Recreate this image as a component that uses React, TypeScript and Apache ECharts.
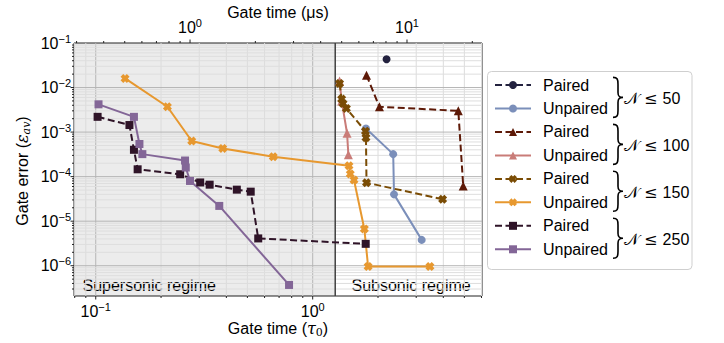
import React, { useEffect, useRef } from 'react';
import * as echarts from 'echarts';

const FONT = '"Liberation Sans", Arial, Helvetica, sans-serif';
const MATH_FONT = '"DejaVu Serif", "Liberation Serif", serif';

// ---- axis ranges ----
const tauRange = [0.0794, 6.03];
const errorRange = [2.09e-7, 0.1];
const microsecondsPerTau = 3.676;
const regimeBoundaryTau = 1.27;

// ---- labelled decade ticks ----
const bottomDecades = [0.1, 1];
const topDecades = [1, 10];
const leftDecades = [1e-6, 1e-5, 1e-4, 1e-3, 1e-2, 1e-1];

// ---- series data: [gate time (tau0), gate error] ----
const paired50 = [[2.19, 4.3e-2]];
const unpaired50 = [[1.76, 1.2e-3], [2.35, 3.2e-4], [2.37, 4.0e-5], [3.18, 3.8e-6]];
const paired100 = [[1.77, 1.9e-2], [2.03, 3.7e-3], [4.69, 3.0e-3], [4.94, 6.2e-5]];
const unpaired100 = [[1.33, 1.4e-2], [1.36, 5.0e-3], [1.44, 9.4e-4], [1.46, 3.1e-4]];
const paired150 = [[1.33, 1.24e-2], [1.36, 5.5e-3], [1.38, 4.4e-3], [1.43, 3.4e-3], [1.75, 1.05e-3], [1.76, 7.5e-4], [1.77, 7.3e-5], [3.97, 3.1e-5]];
const unpaired150 = [[0.1365, 1.6e-2], [0.214, 3.7e-3], [0.277, 6.3e-4], [0.385, 4.3e-4], [0.658, 2.8e-4], [1.47, 1.75e-4], [1.49, 1.15e-4], [1.55, 8.4e-5], [1.73, 6.7e-6], [1.80, 9.6e-7], [3.47, 9.6e-7]];
const paired250 = [[0.102, 2.2e-3], [0.143, 1.44e-3], [0.150, 4.0e-4], [0.156, 1.46e-4], [0.245, 1.13e-4], [0.303, 7.4e-5], [0.335, 6.6e-5], [0.447, 5.1e-5], [0.518, 4.6e-5], [0.561, 4.1e-6], [1.755, 3.1e-6]];
const unpaired250 = [[0.103, 4.2e-3], [0.150, 2.2e-3], [0.159, 5.4e-4], [0.164, 3.2e-4], [0.258, 2.3e-4], [0.260, 1.6e-4], [0.272, 8.0e-5], [0.371, 2.2e-5], [0.778, 3.7e-7]];

const groupLabels = ['50', '100', '150', '250'];
const legendWords = ['Paired', 'Unpaired'];

const X_MARK = 'path://M3,0L5,2L7,0L10,3L8,5L10,7L7,10L5,8L3,10L0,7L2,5L0,3Z';
const BRACE_D = 'M0,0 C4.5,0 5,2 5,7 L5,15 C5,18.5 6,20 10,20 C6,20 5,21.5 5,25 L5,33 C5,38 4.5,40 0,40';
echarts.graphic.registerShape('legendBrace', echarts.graphic.extendPath(BRACE_D, {}));

function logSteps(min: number, max: number): number[][] {
  const out: number[][] = [];
  for (let e = Math.floor(Math.log10(min)); e <= Math.ceil(Math.log10(max)); e++) {
    for (let m = 1; m <= 9; m++) {
      const v = m * Math.pow(10, e);
      if (v > min * 1.0001 && v < max * 0.9999) out.push([v, m === 1 ? 1 : 0]);
    }
  }
  return out;
}

const decadeFormatter = (decades: number[]) => (v: number) => {
  if (!decades.some((d) => Math.abs(v / d - 1) < 1e-6)) return '';
  const e = Math.round(Math.log10(v));
  return `{b|10}{s|${e < 0 ? '\u2212' + -e : e}}`;
};

const labelRich = {
  b: { fontSize: 16, fontFamily: FONT, color: '#000', lineHeight: 20 },
  s: { fontSize: 11, fontFamily: FONT, color: '#000', lineHeight: 12, verticalAlign: 'top' },
};

export default function App() {
  const ref = useRef<HTMLDivElement>(null);
  useEffect(() => {
    if (!ref.current) return;
    const chart = echarts.init(ref.current, null, { renderer: 'svg' });

    const lineSeries = (name: string, data: number[][], color: string, symbol: string, dashed: boolean, size = 8) => ({
      type: 'line',
      name,
      data,
      xAxisIndex: 0,
      yAxisIndex: 0,
      symbol,
      symbolSize: size,
      showSymbol: true,
      silent: true,
      z: 4,
      lineStyle: { color, width: 2, type: dashed ? [7, 3.5] : 'solid' },
      itemStyle: { color },
    });

    const names = groupLabels.flatMap((g) => legendWords.map((w) => `${w}|${g}`));

    const yTop = errorRange[1];
    const xLeft = tauRange[0];

    const option: any = {
      animation: false,
      backgroundColor: '#fff',
      grid: {
        left: 74, top: 43, right: 242, bottom: 47,
        show: true, borderColor: '#222', borderWidth: 1, backgroundColor: 'transparent',
        containLabel: false, outerBoundsMode: 'none',
      },
      xAxis: [
        {
          type: 'log', position: 'bottom', min: tauRange[0], max: tauRange[1],
          axisLine: { show: false }, axisTick: { show: false }, splitLine: { show: false }, minorTick: { show: false },
          axisLabel: { formatter: decadeFormatter(bottomDecades), margin: 5, rich: labelRich },
        },
        {
          type: 'log', position: 'top', min: tauRange[0] * microsecondsPerTau, max: tauRange[1] * microsecondsPerTau,
          axisLine: { show: false }, axisTick: { show: false }, splitLine: { show: false }, minorTick: { show: false },
          axisLabel: { formatter: decadeFormatter(topDecades), margin: 6, rich: labelRich },
        },
      ],
      yAxis: [
        {
          type: 'log', position: 'left', min: errorRange[0], max: errorRange[1],
          axisLine: { show: false }, axisTick: { show: false }, splitLine: { show: false }, minorTick: { show: false },
          axisLabel: { formatter: decadeFormatter(leftDecades), margin: 3, rich: labelRich },
        },
      ],
      legend: {
        orient: 'vertical', left: 494, top: 76, padding: 0,
        itemWidth: 36, itemHeight: 10, itemGap: 5.47,
        selectedMode: false,
        data: names,
        formatter: (n: string) => n.split('|')[0],
        textStyle: { fontFamily: FONT, fontSize: 16, color: '#000', lineHeight: 18, padding: [0, 0, 0, 7] },
      },
      series: [
        // supersonic shading
        {
          type: 'custom', name: 'shade', silent: true, z: 0, clip: false,
          xAxisIndex: 0, yAxisIndex: 0,
          data: [[regimeBoundaryTau, errorRange[0]]],
          renderItem: (params: any, api: any) => {
            const p0 = api.coord([tauRange[0], errorRange[1]]);
            const p1 = api.coord([api.value(0), api.value(1)]);
            return {
              type: 'rect',
              shape: { x: p0[0], y: p0[1], width: p1[0] - p0[0], height: p1[1] - p0[1] },
              style: { fill: 'rgba(0,0,0,0.075)' },
            };
          },
        },
        // vertical gridlines + bottom ticks
        {
          type: 'custom', name: 'xgrid', silent: true, z: 1, clip: false,
          xAxisIndex: 0, yAxisIndex: 0,
          data: logSteps(tauRange[0], tauRange[1]).map(([v, m]) => [v, yTop, m]),
          renderItem: (params: any, api: any) => {
            const cs = params.coordSys;
            const px = api.coord([api.value(0), yTop])[0];
            const major = api.value(2) === 1;
            return {
              type: 'group',
              children: [
                { type: 'line', shape: { x1: px, y1: cs.y, x2: px, y2: cs.y + cs.height }, style: { stroke: major ? '#b5b5b5' : '#dcdcdc', lineWidth: 1 } },
                { type: 'line', shape: { x1: px, y1: cs.y + cs.height, x2: px, y2: cs.y + cs.height + (major ? 3.5 : 2) }, style: { stroke: '#222', lineWidth: 1 } },
              ],
            };
          },
        },
        // horizontal gridlines + left ticks
        {
          type: 'custom', name: 'ygrid', silent: true, z: 1, clip: false,
          xAxisIndex: 0, yAxisIndex: 0,
          data: logSteps(errorRange[0], errorRange[1]).map(([v, m]) => [xLeft, v, m]),
          renderItem: (params: any, api: any) => {
            const cs = params.coordSys;
            const py = api.coord([xLeft, api.value(1)])[1];
            const major = api.value(2) === 1;
            return {
              type: 'group',
              children: [
                { type: 'line', shape: { x1: cs.x, y1: py, x2: cs.x + cs.width, y2: py }, style: { stroke: major ? '#b5b5b5' : '#dedede', lineWidth: 1 } },
                { type: 'line', shape: { x1: cs.x, y1: py, x2: cs.x - (major ? 3.5 : 2), y2: py }, style: { stroke: '#222', lineWidth: 1 } },
              ],
            };
          },
        },
        // top axis ticks (microseconds)
        {
          type: 'custom', name: 'toptick', silent: true, z: 1, clip: false,
          xAxisIndex: 1, yAxisIndex: 0,
          data: logSteps(tauRange[0] * microsecondsPerTau, tauRange[1] * microsecondsPerTau).map(([v, m]) => [v, yTop, m]),
          renderItem: (params: any, api: any) => {
            const cs = params.coordSys;
            const px = api.coord([api.value(0), yTop])[0];
            const major = api.value(2) === 1;
            return { type: 'line', shape: { x1: px, y1: cs.y, x2: px, y2: cs.y - (major ? 3.5 : 2) }, style: { stroke: '#222', lineWidth: 1 } };
          },
        },
        // regime divider
        {
          type: 'custom', name: 'divider', silent: true, z: 2, clip: false,
          xAxisIndex: 0, yAxisIndex: 0,
          data: [[regimeBoundaryTau, yTop]],
          renderItem: (params: any, api: any) => {
            const cs = params.coordSys;
            const px = api.coord([api.value(0), yTop])[0];
            return { type: 'line', shape: { x1: px, y1: cs.y, x2: px, y2: cs.y + cs.height }, style: { stroke: '#404040', lineWidth: 1.5 } };
          },
        },
        lineSeries(names[0], paired50, '#23223f', 'circle', true),
        lineSeries(names[1], unpaired50, '#7b8fba', 'circle', false),
        lineSeries(names[2], paired100, '#5d1907', 'triangle', true, 9),
        lineSeries(names[3], unpaired100, '#c97c78', 'triangle', false, 9),
        lineSeries(names[4], paired150, '#7a4c05', X_MARK, true, 9),
        lineSeries(names[5], unpaired150, '#e7982f', X_MARK, false, 9),
        lineSeries(names[6], paired250, '#2f1428', 'rect', true),
        lineSeries(names[7], unpaired250, '#836697', 'rect', false),
      ],
      graphic: [
        {
          type: 'rect', z: 0, silent: true,
          shape: { x: 487.5, y: 71.5, width: 204.5, height: 198, r: 4 },
          style: { fill: 'rgba(255,255,255,0.8)', stroke: '#cfcfcf', lineWidth: 1 },
        },
        ...groupLabels.flatMap((g, i) => {
          const cy = 97.4 + i * 46.94;
          return [
            {
              type: 'legendBrace', x: 613, y: cy - 20, silent: true, z: 10,
              style: { stroke: '#000', lineWidth: 1.6, fill: 'none' },
            },
            {
              type: 'text', x: 624, y: cy + 1, silent: true, z: 10,
              style: {
                text: `{c|\u{1D4A9}}{m| \u2264 }{n|${g}}`,
                align: 'left', textAlign: 'left', verticalAlign: 'middle', textVerticalAlign: 'middle',
                fill: '#000', fontSize: 16, fontFamily: FONT,
                rich: {
                  c: { fontSize: 16, fontFamily: MATH_FONT, fill: '#000', color: '#000' },
                  m: { fontSize: 16, fontFamily: MATH_FONT, fill: '#000', color: '#000' },
                  n: { fontSize: 16, fontFamily: FONT, fill: '#000', color: '#000' },
                },
              },
            },
          ];
        }),
        {
          type: 'text', x: 278, y: 12, silent: true,
          style: { text: 'Gate time (\u03bcs)', fill: '#000', fontSize: 16, fontFamily: FONT, align: 'center', textAlign: 'center', verticalAlign: 'middle', textVerticalAlign: 'middle' },
        },
        {
          type: 'text', x: 278, y: 328, silent: true,
          style: {
            text: '{n|Gate time (}{i|\u03c4}{s|0}{n|)}',
            fill: '#000', fontSize: 16, fontFamily: FONT, align: 'center', textAlign: 'center', verticalAlign: 'middle', textVerticalAlign: 'middle',
            rich: {
              n: { fontSize: 16, fontFamily: FONT, lineHeight: 20, fill: '#000' },
              i: { fontSize: 16, fontFamily: MATH_FONT, fontStyle: 'italic', lineHeight: 20, fill: '#000' },
              s: { fontSize: 11, fontFamily: MATH_FONT, lineHeight: 12, verticalAlign: 'bottom', fill: '#000' },
            },
          },
        },
        {
          type: 'text', x: 22, y: 171, rotation: Math.PI / 2, silent: true,
          style: {
            text: '{n|Gate error (}{i|\u03b5}{s|av}{n|)}',
            fill: '#000', fontSize: 16, fontFamily: FONT, align: 'center', textAlign: 'center', verticalAlign: 'middle', textVerticalAlign: 'middle',
            rich: {
              n: { fontSize: 16, fontFamily: FONT, lineHeight: 20, fill: '#000' },
              i: { fontSize: 16, fontFamily: MATH_FONT, fontStyle: 'italic', lineHeight: 20, fill: '#000' },
              s: { fontSize: 11, fontFamily: MATH_FONT, fontStyle: 'italic', lineHeight: 12, verticalAlign: 'bottom', fill: '#000' },
            },
          },
        },
        {
          type: 'text', x: 82.5, y: 285, silent: true,
          style: { text: 'Supersonic regime', fill: '#000', fontSize: 16, fontFamily: FONT, align: 'left', textAlign: 'left', verticalAlign: 'middle', textVerticalAlign: 'middle' },
        },
        {
          type: 'text', x: 351.5, y: 285, silent: true,
          style: { text: 'Subsonic regime', fill: '#000', fontSize: 16, fontFamily: FONT, align: 'left', textAlign: 'left', verticalAlign: 'middle', textVerticalAlign: 'middle' },
        },
      ],
    };

    chart.setOption(option);
    return () => chart.dispose();
  }, []);

  return <div ref={ref} style={{ position: 'fixed', left: 0, top: 0, width: 724, height: 343 }} />;
}
